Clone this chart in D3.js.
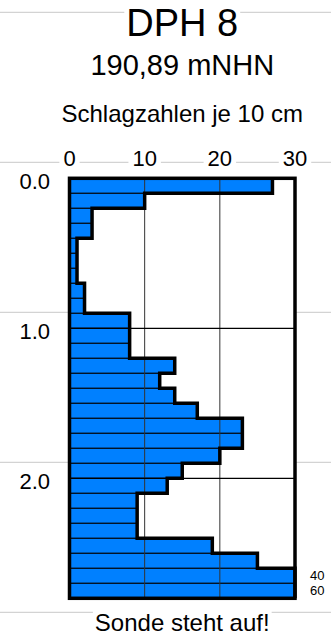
<!DOCTYPE html>
<html>
<head>
<meta charset="utf-8">
<script src="https://cdn.jsdelivr.net/npm/d3@7"></script>
<style>
    body { margin: 0; background: #fff; }
    text { font-family: "Liberation Sans", Arial, sans-serif; fill: #000; }
</style>
</head>
<body>
<div class="chart"></div>
<script>

let svgWidth = 331;
let svgHeight = 640;

// depth (top of each 10 cm step, m) and blow counts
let depths = [0.0, 0.1, 0.2, 0.3, 0.4, 0.5, 0.6, 0.7, 0.8, 0.9,
    1.0, 1.1, 1.2, 1.3, 1.4, 1.5, 1.6, 1.7, 1.8, 1.9,
    2.0, 2.1, 2.2, 2.3, 2.4, 2.5, 2.6, 2.7];
let blows = [27, 10, 3, 3, 1, 1, 1, 2, 2, 8,
    8, 8, 14, 12, 14, 17, 23, 23, 20, 15,
    13, 9, 9, 9, 19, 25, 40, 60];

let xTicks = [0, 10, 20, 30];
let depthTicks = [0.0, 1.0, 2.0];
let pageLines = [-1.1, -0.1, 0.9, 1.9, 2.9];

let title = "DPH 8";
let subtitle = "190,89 mNHN";
let axisTitle = "Schlagzahlen je 10 cm";
let footer = "Sonde steht auf!";

let step = 0.1;
let maxBlows = 30;
let maxDepth = 2.8;

let svg = d3.select(".chart")
    .append("svg")
    .attr("width", svgWidth)
    .attr("height", svgHeight);

let x = d3.scaleLinear().domain([0, maxBlows]).range([69.5, 295]);
let y = d3.scaleLinear().domain([0, maxDepth]).range([178.3, 598.3]);

// light page lines
svg.selectAll(".pageLine")
    .data(pageLines)
    .enter()
    .append("line")
    .attr("x1", 0)
    .attr("x2", svgWidth)
    .attr("y1", d => y(d) - 1)
    .attr("y2", d => y(d) - 1)
    .attr("stroke", "#c8c8c8")
    .attr("stroke-width", 1);

// text with white knockout behind it
function label(str, px, py, size, anchor, pad) {
    let g = svg.append("g");
    let t = g.append("text")
        .attr("x", px)
        .attr("y", py)
        .attr("text-anchor", anchor)
        .style("font-size", size + "px")
        .text(str);
    let bb = t.node().getBBox();
    g.insert("rect", "text")
        .attr("x", bb.x - pad)
        .attr("y", bb.y)
        .attr("width", bb.width + 2 * pad)
        .attr("height", bb.height)
        .attr("fill", "#fff");
    return t;
}

let cx = (x(0) + x(maxBlows)) / 2;
label(title, cx, 36, 38, "middle", 2);
label(subtitle, cx, 75, 29, "middle", 2);
label(axisTitle, cx, 122, 24, "middle", 2);
label(footer, cx, 631, 24, "middle", 2);

xTicks.forEach(function (t) {
    label(t, x(t), 166, 22, "middle", 4);
});

depthTicks.forEach(function (d) {
    label(d.toFixed(1), 50, y(d) + 11, 22, "end", 0);
});

// plot background
svg.append("rect")
    .attr("x", x(0))
    .attr("y", y(0))
    .attr("width", x(maxBlows) - x(0))
    .attr("height", y(maxDepth) - y(0))
    .attr("fill", "#fff");

// bars
svg.selectAll(".bar")
    .data(blows)
    .enter()
    .append("rect")
    .attr("x", x(0))
    .attr("y", (d, i) => y(depths[i]))
    .attr("width", d => x(Math.min(d, maxBlows)) - x(0))
    .attr("height", y(step) - y(0))
    .attr("fill", "#0080ff")
    .attr("stroke", "#000")
    .attr("stroke-width", 1);

// grid
svg.selectAll(".vgrid")
    .data([10, 20])
    .enter()
    .append("line")
    .attr("x1", d => x(d))
    .attr("x2", d => x(d))
    .attr("y1", y(0))
    .attr("y2", y(maxDepth))
    .attr("stroke", "#333")
    .attr("stroke-width", 1);

svg.selectAll(".hgrid")
    .data([1.0, 2.0])
    .enter()
    .append("line")
    .attr("x1", x(0))
    .attr("x2", x(maxBlows))
    .attr("y1", d => y(d))
    .attr("y2", d => y(d))
    .attr("stroke", "#000")
    .attr("stroke-width", 1.2);

// step outline
let pts = [];
blows.forEach(function (b, i) {
    let v = Math.min(b, maxBlows);
    pts.push([x(v), y(depths[i])]);
    pts.push([x(v), y(depths[i] + step)]);
});
svg.append("path")
    .attr("d", d3.line()(pts))
    .attr("fill", "none")
    .attr("stroke", "#000")
    .attr("stroke-width", 3.5)
    .attr("stroke-linejoin", "miter");

// frame
svg.append("rect")
    .attr("x", x(0))
    .attr("y", y(0))
    .attr("width", x(maxBlows) - x(0))
    .attr("height", y(maxDepth) - y(0))
    .attr("fill", "none")
    .attr("stroke", "#000")
    .attr("stroke-width", 3.5);

// values beyond the scale
blows.forEach(function (b, i) {
    if (b > maxBlows) {
        svg.append("text")
            .attr("x", 310)
            .attr("y", y(depths[i] + step / 2))
            .attr("dy", "0.35em")
            .style("font-size", "13px")
            .text(b);
    }
});

</script>
</body>
</html>
